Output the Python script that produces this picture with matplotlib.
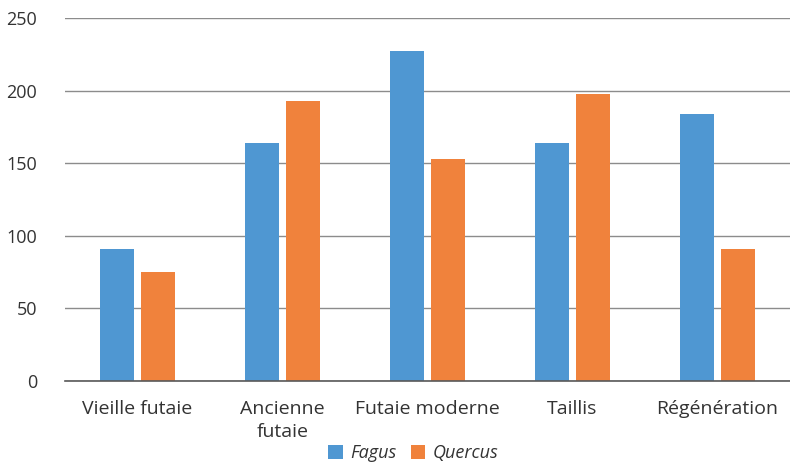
import matplotlib.pyplot as plt
import numpy as np

plt.rcParams['font.family'] = ['Open Sans', 'DejaVu Sans']

categories = ['Vieille futaie', 'Ancienne\nfutaie', 'Futaie moderne', 'Taillis', 'Régénération']
fagus = [91, 164, 227, 164, 184]
quercus = [75, 193, 153, 198, 91]
yticks = [0, 50, 100, 150, 200, 250]

blue = '#4f97d2'
orange = '#f0823c'

fig = plt.figure(figsize=(7.9, 4.62), dpi=100)
ax = fig.add_axes([65 / 790, 1 - 381 / 462, 725 / 790, 363 / 462])

x = np.arange(len(categories))
w = 0.235
ax.bar(x - 0.14, fagus, w, color=blue, label='Fagus', zorder=3)
ax.bar(x + 0.14, quercus, w, color=orange, label='Quercus', zorder=3)

ax.set_xlim(-0.5, 4.5)
ax.set_ylim(0, 250)
ax.set_yticks(yticks)
ax.yaxis.grid(True, color='#8c8c8c', linewidth=1, zorder=0)
ax.set_axisbelow(True)
for s in ['top', 'right', 'left']:
    ax.spines[s].set_visible(False)
ax.spines['bottom'].set_color('#595959')
ax.spines['bottom'].set_linewidth(1.2)
ax.spines['bottom'].set_zorder(4)

ax.set_xticks(x)
ax.set_xticklabels(categories, fontsize=14, color='#333333', linespacing=1.3)
ax.tick_params(axis='x', length=0, pad=14)
ax.tick_params(axis='y', length=0, pad=20, labelsize=13, labelcolor='#333333')

leg = fig.legend(loc='lower center', bbox_to_anchor=(0.523, -0.035), ncol=2, frameon=False,
                 handlelength=0.8, handleheight=0.8, handletextpad=0.4,
                 columnspacing=0.8, prop={'style': 'italic', 'size': 13})
for t in leg.get_texts():
    t.set_color('#333333')

fig.savefig('out.png', dpi=100)
